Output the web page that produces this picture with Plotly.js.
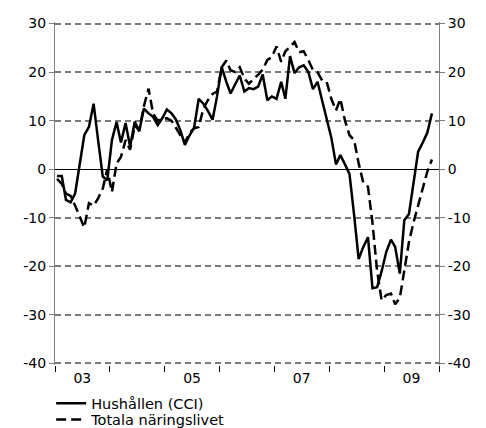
<!DOCTYPE html>
<html><head><meta charset="utf-8">
<script src="https://cdn.plot.ly/plotly-3.0.1.min.js"></script>
<style>body{margin:0;background:#fff}#chart{width:486px;height:428px}</style>
</head><body><div id="chart"></div>
<script>
// Monthly data, Jan 2003 .. Nov 2009
const firstYear = 2003;
const hushallen = [
  -1.4, -1.4, -6.3, -6.8, -5, 1, 7, 8.7, 13.5, 6, -1.5, -2.3,
  6, 9.7, 5.5, 9.5, 4.7, 9.8, 7.8, 12.5, 11.5, 10.8, 9.1, 10.5,
  12.3, 11.5, 10.3, 8, 5, 7, 8.5, 14.5, 13.5, 12, 10.2, 15,
  21, 18, 15.6, 17.5, 19.3, 16, 16.7, 16.5, 17, 19.5, 14.2, 15,
  14.5, 18, 14.5, 23.3, 19.8, 21, 21.4, 20, 16.5, 18, 14, 10,
  6.5, 1, 2.9, 1, -1, -9.5, -18.5, -16, -14, -24.5, -24.3, -21,
  -17, -14.5, -16, -21.5, -10.5, -9.2, -3, 3.6, 5.5, 7.5, 11.5
];
const totala = [
  -2, -3, -5, -5.5, -7.5, -10, -12, -7, -7.5, -6, -4, 0,
  -4.7, 1.2, 2.5, 6, 4, 9, 8, 13, 16.6, 11.5, 10, 10.4,
  10.5, 10, 8.7, 7, 5.5, 7.5, 8.4, 8.7, 12.5, 14.2, 15.5, 16,
  21, 22.4, 20.4, 20, 21, 18.7, 17.6, 18.5, 19.5, 20.5, 22.5, 23.1,
  25.3, 22.1, 24.3, 25.2, 26.2, 24.1, 24.3, 22.5, 20.4, 20, 18.3, 18,
  14.5, 12.1, 14.5, 10, 7, 6, 1.2, -2.8, -3.6, -11, -21, -27,
  -25.9, -25.6, -27.8, -26.5, -20.5, -15, -11, -7.5, -3.5, -0.5, 2
];
const yearBounds = ['2003-01-01','2004-01-01','2005-01-01','2006-01-01','2007-01-01','2008-01-01','2009-01-01','2010-01-01'];
const yearLabelPos = ['2003-07-02','2005-07-02','2007-07-02','2009-07-02'];
const yearLabels = ['03','05','07','09'];
const yTickVals = [-40,-30,-20,-10,0,10,20,30];
const yTickText = ['-40','-30','-20','-10','0','10','20','30'];

const months = hushallen.map((_, i) => {
  const y = firstYear + Math.floor(i / 12);
  const m = String(i % 12 + 1).padStart(2, '0');
  return `${y}-${m}-15`;
});

const font = {family: 'DejaVu Sans, Verdana, sans-serif', size: 14, color: '#000'};

const traces = [
  {x: months, y: hushallen, type: 'scatter', mode: 'lines', name: 'Hushållen (CCI)',
   line: {color: '#000', width: 2.5}, legend: 'legend'},
  {x: months, y: totala, type: 'scatter', mode: 'lines', name: 'Totala näringslivet',
   line: {color: '#000', width: 2.5, dash: '10px,5px'}, legend: 'legend2'},
  {x: [null], y: [null], type: 'scatter', mode: 'lines', yaxis: 'y2', showlegend: false, hoverinfo: 'skip'}
];

const yBase = {
  range: [-40.32, 30.32], tickvals: yTickVals, ticktext: yTickText,
  ticks: 'outside', ticklen: 5, tickcolor: '#808080', tickwidth: 1,
  showline: true, linecolor: '#808080', linewidth: 1,
  tickfont: font, fixedrange: true
};

const layout = {
  width: 486, height: 428,
  margin: {l: 55, r: 47, t: 22, b: 63, pad: 0, autoexpand: false},
  paper_bgcolor: '#fff', plot_bgcolor: '#fff',
  font: font,
  showlegend: true,
  xaxis: {
    type: 'date', range: ['2003-01-01', '2010-01-01'],
    tickvals: yearLabelPos, ticktext: yearLabels,
    ticks: 'outside', ticklen: 0, tickcolor: 'rgba(0,0,0,0)',
    minor: {tickvals: yearBounds, ticks: 'outside', ticklen: 6, tickcolor: '#000', tickwidth: 1, showgrid: false},
    showgrid: false, zeroline: false, showline: false,
    tickfont: font, fixedrange: true
  },
  yaxis: Object.assign({}, yBase, {
    showgrid: true, gridcolor: '#7a7a7a', gridwidth: 2, griddash: '6px,4px',
    zeroline: true, zerolinecolor: '#000', zerolinewidth: 1
  }),
  yaxis2: Object.assign({}, yBase, {
    overlaying: 'y', side: 'right', showgrid: false, zeroline: false
  }),
  legend: {x: -0.01, xanchor: 'left', y: -0.112, yanchor: 'middle', bgcolor: 'rgba(0,0,0,0)',
           font: {family: font.family, size: 14.5, color: '#000'}},
  legend2: {x: -0.01, xanchor: 'left', y: -0.159, yanchor: 'middle', bgcolor: 'rgba(0,0,0,0)',
           font: {family: font.family, size: 14.5, color: '#000'}}
};

Plotly.newPlot('chart', traces, layout, {displayModeBar: false, staticPlot: true});
</script>
</body></html>
